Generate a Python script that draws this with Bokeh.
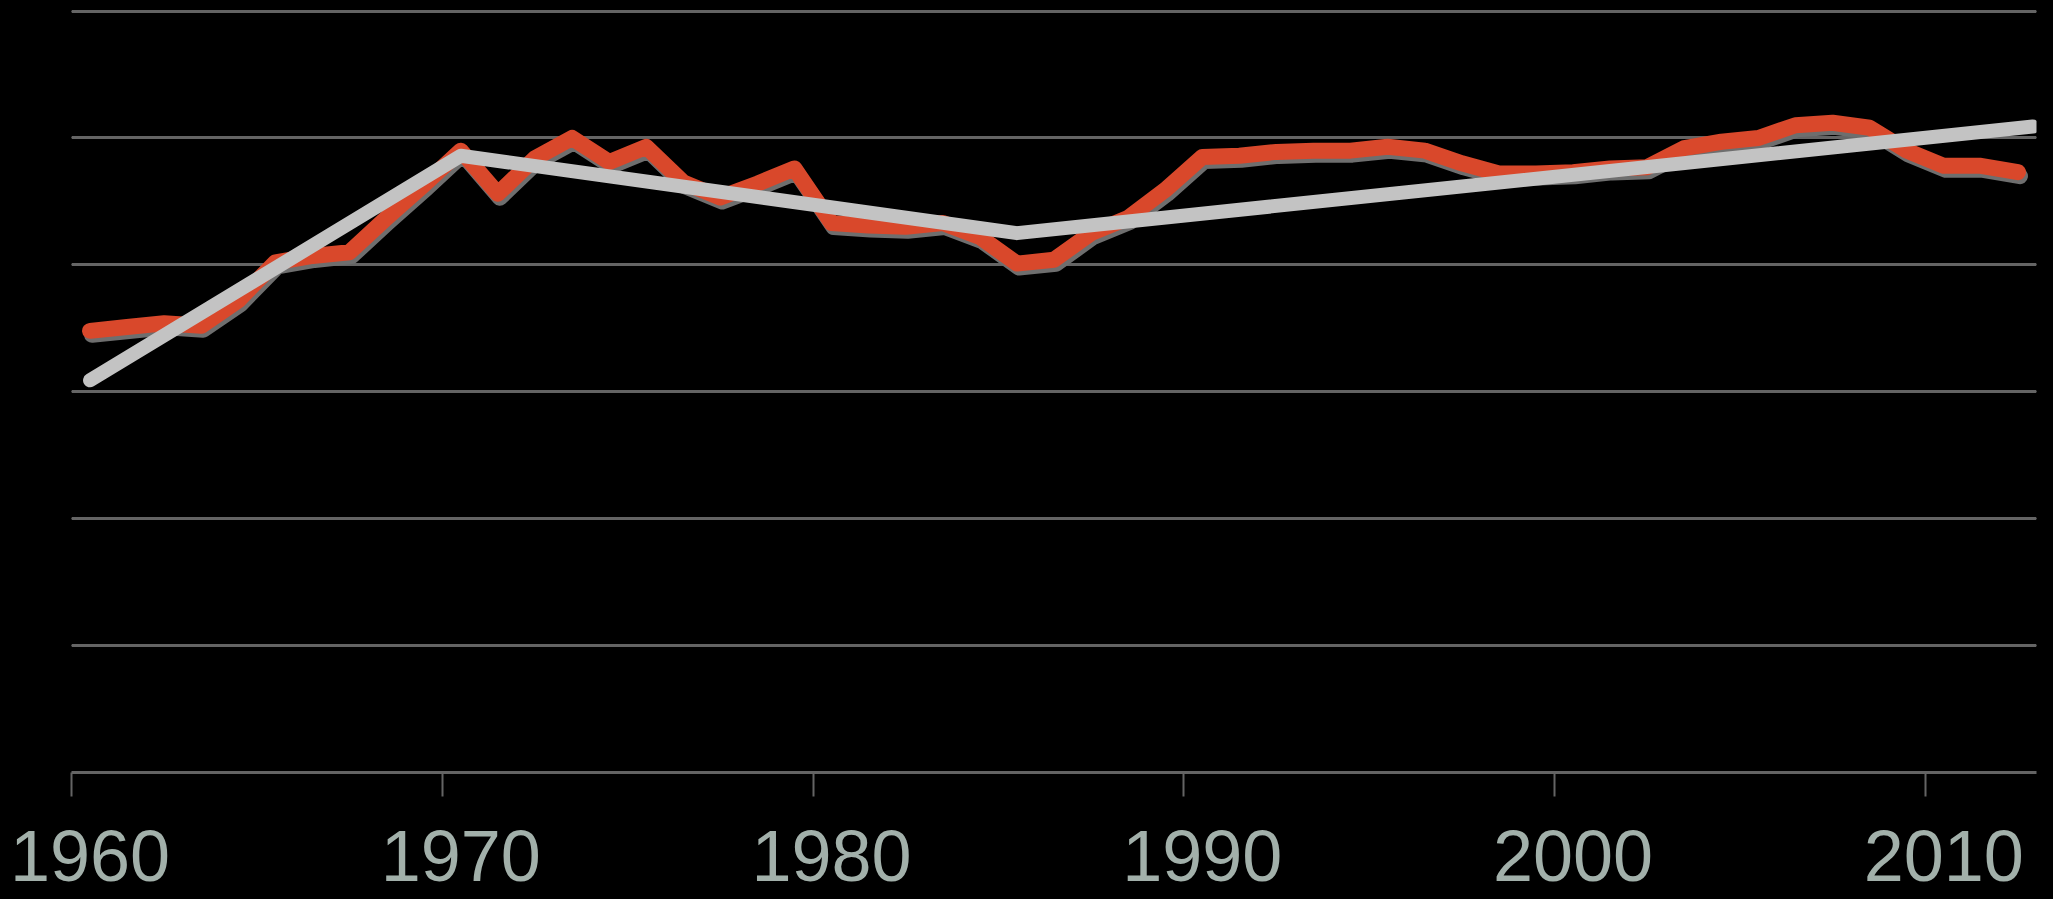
from bokeh.plotting import figure
from bokeh.models import (FixedTicker, LinearAxis, Range1d, Grid,
                          CustomJSTickFormatter, GlobalInlineStyleSheet)
from bokeh.embed import file_html
from bokeh.resources import INLINE

# ---- data ----
years = list(range(1960, 2013))
values = [34.8, 35.1, 35.4, 35.2, 37.2, 40.2, 40.7, 41.0, 43.7, 46.3,
          49.0, 45.6, 48.4, 50.0, 48.1, 49.3, 46.5, 45.3, 46.4, 47.6,
          43.3, 43.1, 43.0, 43.3, 42.2, 40.1, 40.4, 42.5, 43.7, 45.9,
          48.5, 48.6, 48.9, 49.0, 49.0, 49.3, 49.0, 48.0, 47.2, 47.2,
          47.3, 47.6, 47.7, 49.2, 49.7, 50.0, 51.0, 51.2, 50.8, 49.0,
          47.8, 47.8, 47.3]
trend_years = [1960, 1970, 1985, 2012.4]
trend_values = [30.9, 48.6, 42.5, 50.9]
tick_years = [1960, 1970, 1980, 1990, 2000, 2010]
grid_values = [0, 10, 20, 30, 40, 50, 60]

# category centres sit half a year to the right of the boundary ticks
xs = [y + 0.5 for y in years]
txs = [y + 0.5 for y in trend_years]

AX = "#646464"

p = figure(width=2048, height=899,
           x_range=Range1d(1960, 2013), y_range=Range1d(0, 60.2),
           output_backend="svg", toolbar_location=None,
           y_axis_location=None,
           background_fill_color="black", border_fill_color="black",
           outline_line_color=None, outline_line_alpha=0,
           min_border_left=71, min_border_right=12,
           min_border_top=8, min_border_bottom=127)
p.stylesheets = [GlobalInlineStyleSheet(css="html, body { background-color: #000000; }")]

p.xgrid.visible = False
p.add_layout(Grid(dimension=1, ticker=FixedTicker(ticks=grid_values),
                  grid_line_color=AX, grid_line_width=3))

# axis with boundary tick marks only
ax1 = p.xaxis[0]
ax1.ticker = FixedTicker(ticks=tick_years)
ax1.formatter = CustomJSTickFormatter(code="return '';")
ax1.major_label_text_font_size = "1px"
ax1.major_label_standoff = 0
ax1.axis_line_color = AX
ax1.axis_line_width = 3
ax1.major_tick_line_color = AX
ax1.major_tick_line_width = 2
ax1.major_tick_out = 24
ax1.major_tick_in = 0
ax1.minor_tick_line_color = None

# axis carrying the year labels at category centres
ax2 = LinearAxis(ticker=FixedTicker(ticks=[t + 0.5 for t in tick_years]),
                 formatter=CustomJSTickFormatter(code="return String(Math.floor(tick));"))
ax2.axis_line_color = None
ax2.major_tick_line_color = None
ax2.minor_tick_line_color = None
ax2.major_label_text_font = "Liberation Sans"
ax2.major_label_text_font_size = "72px"
ax2.major_label_text_color = "#a2b0aa"
ax2.major_label_standoff = 28
p.add_layout(ax2, "below")

# shadow of the red line (offset a few pixels down/right)
p.extra_x_ranges["sh"] = Range1d(1960 - 2 / 37.08, 2013 - 2 / 37.08)
p.extra_y_ranges["sh"] = Range1d(4 / 12.7, 60.2 + 4 / 12.7)
p.line(xs, values, x_range_name="sh", y_range_name="sh",
       line_color="#6e6e6e", line_width=16, line_join="round", line_cap="round")

p.line(xs, values, line_color="#d9482b", line_width=16,
       line_join="round", line_cap="round")
p.line(txs, trend_values, line_color="#c3c3c3", line_width=14,
       line_join="round", line_cap="round")

open("out.html", "w").write(file_html(p, INLINE))
